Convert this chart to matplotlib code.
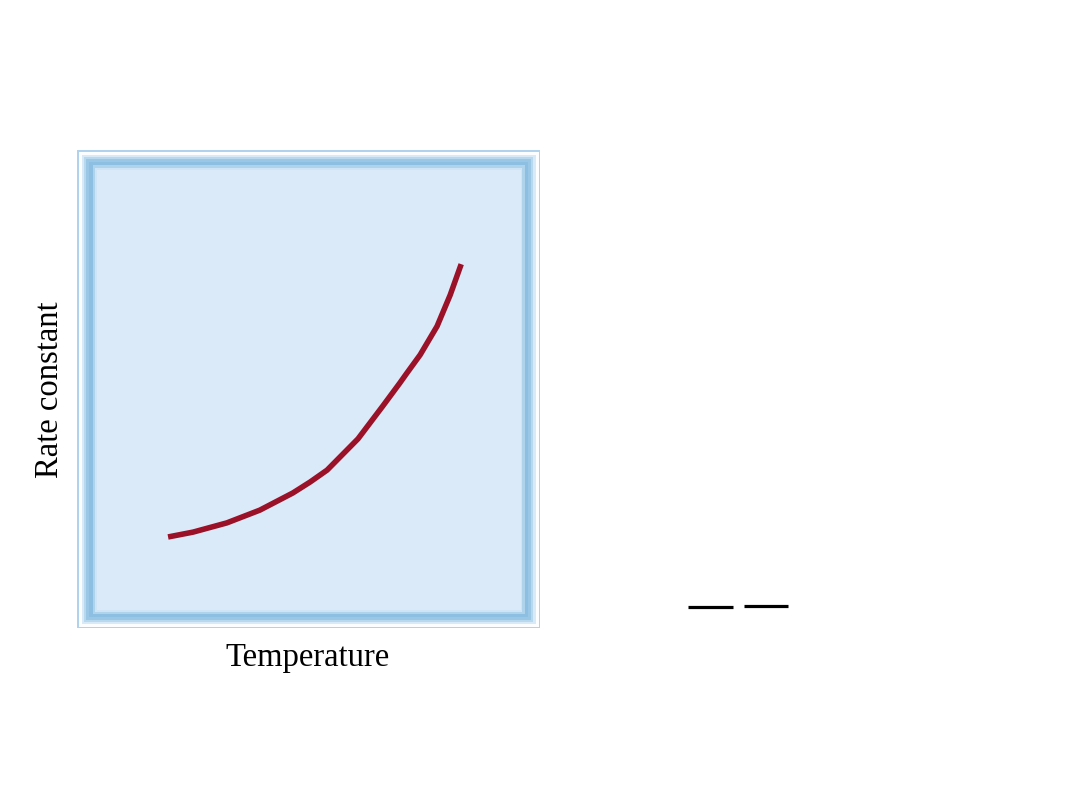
import matplotlib
matplotlib.use("Agg")
import matplotlib.pyplot as plt
from matplotlib.patches import Rectangle
from matplotlib.lines import Line2D

# curve (arbitrary units, 0-100 on both axes)
temperature = [16.8, 22.7, 30.7, 38.5, 46.3, 50.4, 54.4, 61.7, 67.6, 71.6,
               73.3, 76.4, 80.4, 83.5, 86.1]
rate_constant = [16.6, 17.7, 19.8, 22.7, 26.6, 29.1, 31.8, 38.9, 46.4, 51.6,
                 53.9, 58.0, 64.5, 71.6, 78.6]

W, H = 1080, 810
fig = plt.figure(figsize=(W / 100, H / 100), dpi=100)
fig.patch.set_facecolor("white")

def fx(px):
    return px / W

def fy(py):
    return 1 - py / H

# bevelled blue frame around the plot area
x0, y0, x1, y1 = 77, 150, 540, 628
layers = [(0, "#b0d2ec"), (1.5, "#fbfdff"), (4.5, "#d8eaf7"), (7, "#b8d8ee"),
          (9, "#9ac7e6"), (12, "#8cbfe2"), (15.5, "#b0d3ec"), (18, "#cfe4f5"),
          (19.5, "#dbeaf8")]
for inset, col in layers:
    fig.patches.append(Rectangle((fx(x0 + inset), fy(y1 - inset * 0.9)),
                                 fx(x1 - x0 - 2 * inset), (y1 - y0 - 1.9 * inset) / H,
                                 transform=fig.transFigure, facecolor=col,
                                 edgecolor="none", zorder=0))

ax = fig.add_axes([fx(97), fy(610), fx(520 - 97), (610 - 170) / H])
ax.set_zorder(2)
ax.set_facecolor("none")
ax.plot(temperature, rate_constant, color="#9a1128", lw=4.0,
        solid_capstyle="butt", solid_joinstyle="round")
ax.set_xlim(0, 100)
ax.set_ylim(0, 100)
ax.axis("off")

fig.text(fx(308), fy(658), "Temperature", family="Liberation Serif", fontsize=23.5,
         ha="center", va="center")
fig.text(fx(50), fy(390), "Rate constant", family="Liberation Serif", fontsize=23.5,
         ha="center", va="center", rotation=90)

# two short dashes at lower right
fig.lines.append(Line2D([fx(688), fx(733)], [fy(607), fy(607)], transform=fig.transFigure,
                        color="black", lw=2.3, solid_capstyle="butt"))
fig.lines.append(Line2D([fx(744), fx(788)], [fy(605.5), fy(605.5)], transform=fig.transFigure,
                        color="black", lw=2.3, solid_capstyle="butt"))

fig.savefig("out.png", dpi=100)
